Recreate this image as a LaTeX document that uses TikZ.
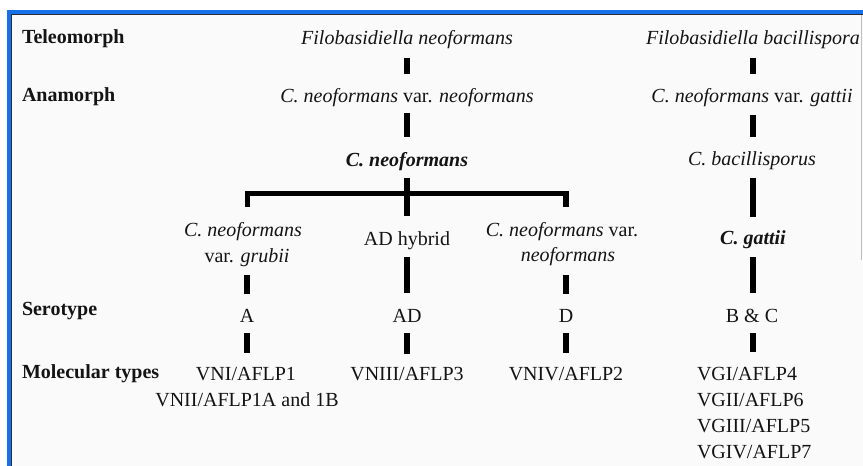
\documentclass[tikz,border=0pt]{standalone}
\usepackage{fontspec}
\setmainfont{Liberation Serif}
\definecolor{frameblue}{RGB}{22,112,232}
\definecolor{framedark}{RGB}{45,45,55}
\definecolor{panelbg}{RGB}{250,250,250}
\definecolor{inkc}{RGB}{20,20,20}
\begin{document}
\begin{tikzpicture}[x=0.5pt,y=-0.5pt,
  txt/.style={inner sep=0pt, outer sep=0pt, text height=7pt, text depth=2pt, anchor=base,
              font=\fontsize{10}{12}\selectfont, text=inkc},
  lbl/.style={txt, anchor=base west, font=\fontsize{10}{12}\selectfont\bfseries},
  vg/.style={txt, anchor=base west},
  bar/.style={line width=2.8pt, line cap=butt, line join=miter, draw=black},
]
\useasboundingbox (0,0) rectangle (863,466);
% frame
\fill[white] (0,0) rectangle (863,466);
\fill[frameblue] (7,10) rectangle (863,466);
\fill[framedark] (11,14) rectangle (863,466);
\fill[panelbg] (12,15) rectangle (863,466);
\draw[black!25, line width=0.6pt] (861.5,15) -- (861.5,260);

% row labels
\node[lbl] (tele) at (22,43) {Teleomorph};
\node[lbl] (ana) at (22,101) {Anamorph};
\node[lbl] (sero) at (22,315) {Serotype};
\node[lbl] (mol) at (22,378) {Molecular types};

% neoformans main column
\node[txt] (FN) at (407,44) {\textit{Filobasidiella neoformans}};
\node[txt] (CNN) at (407,102) {\textit{C. neoformans} var. \textit{neoformans}};
\node[txt] (CN) at (407,166) {\textbf{\textit{C. neoformans}}};

% three branches
\node[txt] (L1) at (243,236) {\textit{C. neoformans}};
\node[txt] (L2) at (247,262) {var. \textit{grubii}};
\node[txt] (ADh) at (407,245) {AD hybrid};
\node[txt] (R1) at (562,236) {\textit{C. neoformans} var.};
\node[txt] (R2) at (568,261) {\textit{neoformans}};

\node[txt] (A) at (247,322) {A};
\node[txt] (AD) at (407,322) {AD};
\node[txt] (D) at (566,322) {D};

\node[txt] (VNI) at (246,380) {VNI/AFLP1};
\node[txt] (VNII) at (247,406) {VNII/AFLP1A and 1B};
\node[txt] (VNIII) at (407,380) {VNIII/AFLP3};
\node[txt] (VNIV) at (566,380) {VNIV/AFLP2};

% gattii column
\node[txt] (FB) at (753,44) {\textit{Filobasidiella bacillispora}};
\node[txt] (CNG) at (752,102) {\textit{C. neoformans} var. \textit{gattii}};
\node[txt] (CB) at (752,165) {\textit{C. bacillisporus}};
\node[txt] (CG) at (753,244) {\textbf{\textit{C. gattii}}};
\node[txt] (BC) at (752,322) {B \& C};
\node[vg] (VG1) at (697,380) {VGI/AFLP4};
\node[vg] (VG2) at (697,406) {VGII/AFLP6};
\node[vg] (VG3) at (697,432) {VGIII/AFLP5};
\node[vg] (VG4) at (697,458) {VGIV/AFLP7};

% bracket junctions
\coordinate (jM) at (407,216);
\coordinate (jT) at (407,193.5);
\coordinate (jL) at (247.5,207);
\coordinate (jR) at (566,207);

% connectors, neoformans
\draw[bar, shorten <=5pt, shorten >=7pt] (FN) -- (CNN);
\draw[bar, shorten <=3.5pt, shorten >=7.5pt] (CNN) -- (CN);
\draw[bar, shorten <=4pt] (CN) -- (jM);
\draw[bar] (jL) -- (jL |- jT) -- (jR |- jT) -- (jR);
\draw[bar, shorten <=4.5pt, shorten >=7pt] (L2) -- (A);
\draw[bar, shorten <=4pt, shorten >=7.5pt] (ADh) -- (AD);
\draw[bar, shorten <=5pt, shorten >=7pt] (D |- R2.south) -- (D.north);
\draw[bar, shorten <=3.5pt, shorten >=6.5pt] (A) -- (A |- VNI.north);
\draw[bar, shorten <=3.5pt, shorten >=6pt] (AD) -- (VNIII);
\draw[bar, shorten <=3.5pt, shorten >=6.5pt] (D) -- (VNIV);

% connectors, gattii
\draw[bar, shorten <=5pt, shorten >=7pt] (FB) -- (FB |- CNG.north);
\draw[bar, shorten <=4.5pt, shorten >=7pt] (FB |- CNG.south) -- (FB |- CB.north);
\draw[bar, shorten <=4.5pt, shorten >=6.5pt] (FB |- CB.south) -- (CG);
\draw[bar, shorten <=4.5pt, shorten >=7.5pt] (CG) -- (CG |- BC.north);
\draw[bar, shorten <=3.5pt, shorten >=7pt] (CG |- BC.south) -- (CG |- VG1.north);
\end{tikzpicture}
\end{document}
